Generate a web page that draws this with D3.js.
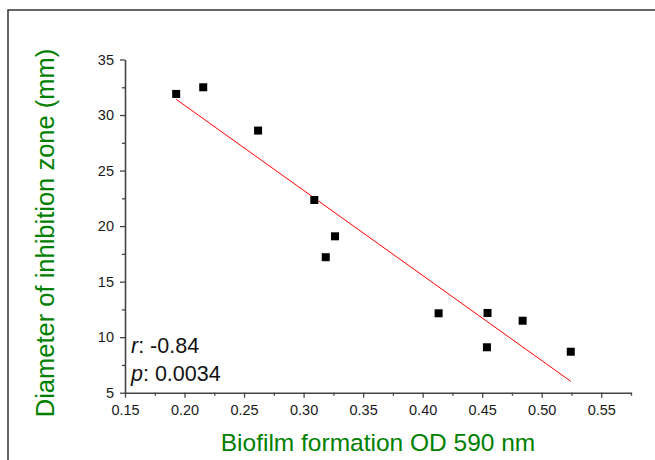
<!DOCTYPE html>
<html>
<head>
<meta charset="utf-8">
<script src="https://cdn.jsdelivr.net/npm/d3@7"></script>
<style>
  body { margin: 0; background: #fff; }
  svg { display: block; font-family: "Liberation Sans", Arial, sans-serif; }
</style>
</head>
<body>
<svg id="chart"></svg>
<script>
const svgWidth = 655;
const svgHeight = 460;

// data
const odValues = [0.193, 0.2157, 0.2618, 0.309, 0.3186, 0.3264, 0.4134, 0.4545, 0.454, 0.484, 0.5244];
const zoneValues = [31.9, 32.5, 28.6, 22.35, 17.2, 19.08, 12.15, 12.18, 9.09, 11.48, 8.69];
const xTicks = [0.15, 0.20, 0.25, 0.30, 0.35, 0.40, 0.45, 0.50, 0.55];
const yTicks = [5, 10, 15, 20, 25, 30, 35];
const statLines = [["r", ": -0.84"], ["p", ": 0.0034"]];

const plot = { left: 125, right: 631, top: 59.5, bottom: 392.7 };

var svg = d3.select("#chart")
    .attr("width", svgWidth)
    .attr("height", svgHeight);

// outer frame (runs off the right and bottom edges)
svg.append("rect")
    .attr("x", 8)
    .attr("y", 10)
    .attr("width", 700)
    .attr("height", 500)
    .attr("fill", "none")
    .attr("stroke", "#333")
    .attr("stroke-width", 1.5);

var x = d3.scaleLinear().domain([0.15, 0.575]).range([plot.left, plot.right]);
var y = d3.scaleLinear().domain([5, 35]).range([plot.bottom, plot.top]);

// minor ticks
var xMinor = d3.range(0.175, 0.58, 0.05);
var yMinor = d3.range(7.5, 35, 5);

svg.append("g")
    .attr("transform", "translate(0," + plot.bottom + ")")
    .call(d3.axisBottom(x).tickValues(xMinor).tickSize(3).tickFormat(""))
    .call(g => g.select(".domain").remove())
    .selectAll("line").attr("stroke", "#444").attr("stroke-width", 1.3);

svg.append("g")
    .attr("transform", "translate(" + plot.left + ",0)")
    .call(d3.axisLeft(y).tickValues(yMinor).tickSize(3).tickFormat(""))
    .call(g => g.select(".domain").remove())
    .selectAll("line").attr("stroke", "#444").attr("stroke-width", 1.3);

// major axes
var xAxis = svg.append("g")
    .attr("transform", "translate(0," + plot.bottom + ")")
    .call(d3.axisBottom(x).tickValues(xTicks).tickSize(5).tickSizeOuter(0).tickPadding(7)
        .tickFormat(d3.format(".2f")));

var yAxis = svg.append("g")
    .attr("transform", "translate(" + plot.left + ",0)")
    .call(d3.axisLeft(y).tickValues(yTicks).tickSize(5).tickSizeOuter(0).tickPadding(6)
        .tickFormat(d3.format("d")));

[xAxis, yAxis].forEach(function(a) {
    a.select(".domain").attr("stroke", "#444").attr("stroke-width", 1.6);
    a.selectAll(".tick line").attr("stroke", "#444").attr("stroke-width", 1.3);
    a.selectAll(".tick text")
        .attr("fill", "#1a1a1a")
        .style("font-size", "14.5px")
        .style("font-family", "Liberation Sans, Arial, sans-serif");
});

// linear fit
var mx = d3.mean(odValues), my = d3.mean(zoneValues);
var sxy = d3.sum(odValues, (v, i) => (v - mx) * (zoneValues[i] - my));
var sxx = d3.sum(odValues, v => (v - mx) * (v - mx));
var slope = sxy / sxx;
var intercept = my - slope * mx;
var xExtent = d3.extent(odValues);

svg.append("line")
    .attr("x1", x(xExtent[0]))
    .attr("y1", y(intercept + slope * xExtent[0]))
    .attr("x2", x(xExtent[1]))
    .attr("y2", y(intercept + slope * xExtent[1]))
    .attr("stroke", "#ff0000")
    .attr("stroke-width", 1);

// points
var pts = odValues.map((v, i) => ({ od: v, zone: zoneValues[i] }));
svg.selectAll("rect.pt")
    .data(pts)
    .enter()
    .append("rect")
    .attr("class", "pt")
    .attr("x", d => x(d.od) - 4)
    .attr("y", d => y(d.zone) - 4)
    .attr("width", 8)
    .attr("height", 8)
    .attr("fill", "#000");

// r / p annotation
var stat = svg.append("g");
statLines.forEach(function(s, i) {
    var t = stat.append("text")
        .attr("x", 131)
        .attr("y", 353 + i * 28)
        .attr("fill", "#111")
        .style("font-size", "21.5px");
    t.append("tspan").style("font-style", "italic").text(s[0]);
    t.append("tspan").text(s[1]);
});

// axis titles
svg.append("text")
    .attr("x", (plot.left + plot.right) / 2)
    .attr("y", 450.5)
    .attr("text-anchor", "middle")
    .attr("fill", "#008000")
    .style("font-size", "24.5px")
    .text("Biofilm formation OD 590 nm");

svg.append("text")
    .attr("transform", "translate(54,233) rotate(-90)")
    .attr("text-anchor", "middle")
    .attr("fill", "#008000")
    .style("font-size", "25.5px")
    .text("Diameter of inhibition zone (mm)");
</script>
</body>
</html>
